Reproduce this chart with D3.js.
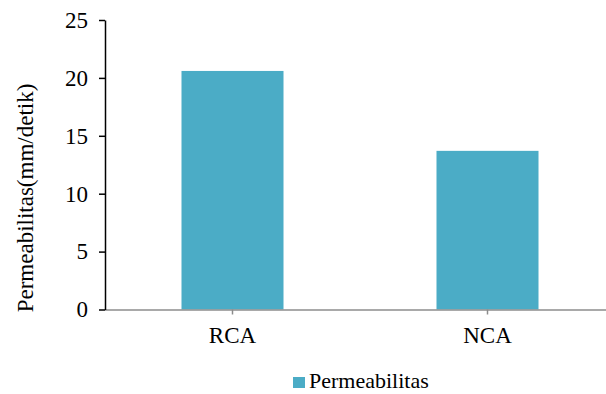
<!DOCTYPE html>
<html>
<head>
<meta charset="utf-8">
<script src="https://cdn.jsdelivr.net/npm/d3@7"></script>
<style>
  html, body { margin: 0; padding: 0; background: #fff; }
  svg { display: block; }
  svg text { font-family: "Liberation Serif", "Times New Roman", serif !important; fill: #000; }
</style>
</head>
<body>
<svg id="chart" width="606" height="394"></svg>
<script>
// Permeability of recycled vs natural coarse aggregate
const categories = ["RCA", "NCA"];
const permeabilitas = [20.6, 13.7];
const yTicks = [0, 5, 10, 15, 20, 25];
const seriesName = "Permeabilitas";
const yTitle = "Permeabilitas(mm/detik)";

const barColor = "#4BACC6";
const serif = '"Liberation Serif", "Times New Roman", serif';
const svg = d3.select("#chart");

const x = d3.scaleBand()
  .domain(categories)
  .range([105, 615])
  .paddingInner(0.6)
  .paddingOuter(0.3);

const y = d3.scaleLinear()
  .domain([0, 25])
  .range([309.5, 20]);

// bars
svg.append("g")
  .selectAll("rect")
  .data(categories)
  .join("rect")
  .attr("x", d => x(d))
  .attr("width", x.bandwidth())
  .attr("y", (d, i) => y(permeabilitas[i]))
  .attr("height", (d, i) => y(0) - y(permeabilitas[i]))
  .attr("fill", barColor);

// category axis (gray baseline)
const xAxis = svg.append("g")
  .attr("transform", `translate(0,${y(0)})`)
  .call(d3.axisBottom(x).tickSize(5).tickPadding(12).tickSizeOuter(0));
xAxis.attr("font-family", null);
xAxis.select(".domain").attr("stroke", "#8c8c8c").attr("stroke-width", 1.5)
  .attr("d", `M${x.range()[0]},0.5H606`);
xAxis.selectAll(".tick line").attr("stroke", "#8c8c8c").attr("stroke-width", 1.5);
xAxis.selectAll(".tick text")
  .style("font-family", serif)
  .style("font-size", "23px")
  .attr("fill", "#000");

// value axis
const yAxis = svg.append("g")
  .attr("transform", "translate(105,0)")
  .call(d3.axisLeft(y).tickValues(yTicks).tickSize(6).tickPadding(11).tickSizeOuter(0));
yAxis.attr("font-family", null);
yAxis.select(".domain").attr("stroke", "#000").attr("stroke-width", 1.5);
yAxis.selectAll(".tick line").attr("stroke", "#000").attr("stroke-width", 1.5);
yAxis.selectAll(".tick text")
  .style("font-family", serif)
  .style("font-size", "23px")
  .attr("fill", "#000");

// y title
svg.append("text")
  .attr("transform", "translate(33,198) rotate(-90)")
  .attr("text-anchor", "middle")
  .style("font-family", serif)
  .style("font-size", "23px")
  .text(yTitle);

// legend
const legend = svg.append("g").attr("transform", "translate(293,377)");
legend.append("rect").attr("width", 12).attr("height", 11).attr("fill", barColor);
legend.append("text").attr("x", 16).attr("y", 11)
  .style("font-family", serif)
  .style("font-size", "22px")
  .text(seriesName);
</script>
</body>
</html>
